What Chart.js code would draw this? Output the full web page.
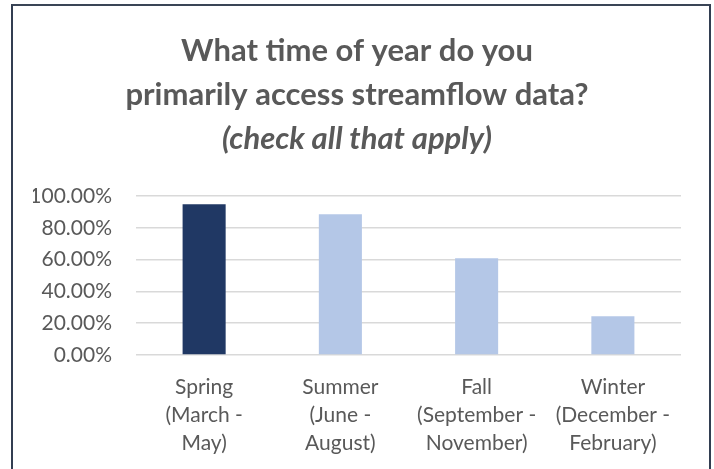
<!DOCTYPE html>
<html>
<head>
<meta charset="utf-8">
<script src="https://cdn.jsdelivr.net/npm/chart.js@4"></script>
<style>
  html, body { margin: 0; padding: 0; background: #fff; }
  #wrap { position: relative; width: 714px; height: 469px; }
  #frame {
    position: absolute; left: 11px; top: 4px; width: 696px; height: 480px;
    border: 2px solid #323e51; border-top-color: #3a4556; pointer-events: none;
  }
</style>
</head>
<body>
<div id="wrap">
  <canvas id="chart" width="714" height="469"></canvas>
  <div id="frame"></div>
</div>
<script>
// chart data
const seasons = [
  ['Spring', '(March -', 'May)'],
  ['Summer', '(June -', 'August)'],
  ['Fall', '(September -', 'November)'],
  ['Winter', '(December -', 'February)']
];
const shares = [0.948, 0.885, 0.608, 0.243];
const barColors = ['#203864', '#b4c7e7', '#b4c7e7', '#b4c7e7'];
const yTicks = [0, 0.2, 0.4, 0.6, 0.8, 1.0];

const textColor = '#595959';
const font = 'Lato';

new Chart(document.getElementById('chart'), {
  type: 'bar',
  data: {
    labels: seasons,
    datasets: [{
      data: shares,
      backgroundColor: barColors,
      categoryPercentage: 1,
      barPercentage: 0.316
    }]
  },
  options: {
    responsive: false,
    animation: false,
    layout: { padding: { left: 33, right: 33, top: 0, bottom: 0 } },
    plugins: {
      legend: { display: false },
      tooltip: { enabled: false },
      title: {
        display: true,
        text: ['What time of year do you', 'primarily access streamflow data?'],
        color: textColor,
        font: { family: font, size: 31, weight: 'bold', lineHeight: 44 / 31 },
        padding: { top: 29, bottom: 0 }
      },
      subtitle: {
        display: true,
        text: '(check all that apply)',
        color: textColor,
        font: { family: font, size: 31, weight: 'bold', style: 'italic', lineHeight: 44 / 31 },
        padding: { top: 0, bottom: 35 }
      }
    },
    scales: {
      y: {
        min: 0,
        max: 1,
        afterFit: s => { s.width = 103; },
        afterBuildTicks: s => { s.ticks = yTicks.map(v => ({ value: v })); },
        ticks: {
          color: textColor,
          padding: 24,
          font: { family: font, size: 21 },
          callback: v => (v * 100).toFixed(2) + '%'
        },
        grid: { color: '#d9d9d9', lineWidth: 1.5, drawTicks: false },
        border: { display: false }
      },
      x: {
        afterFit: s => { s.height = 114; },
        ticks: {
          color: textColor,
          padding: 18,
          font: { family: font, size: 21, lineHeight: 28 / 21 },
          maxRotation: 0,
          autoSkip: false
        },
        grid: { display: false, drawTicks: false },
        border: { display: false }
      }
    }
  }
});
</script>
</body>
</html>
